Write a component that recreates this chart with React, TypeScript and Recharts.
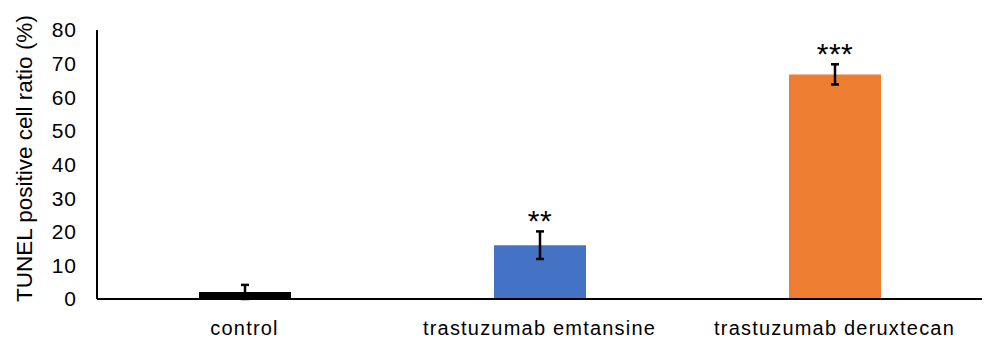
import { Bar, BarChart, Cell, ErrorBar, LabelList, XAxis, YAxis } from "recharts";

const categories = ["control", "trastuzumab emtansine", "trastuzumab deruxtecan"];
const means = [2.1, 16.0, 66.8];
const errors = [2.1, 4.1, 3.0];
const stars = ["", "**", "***"];
const barColors = ["#000000", "#4472C4", "#ED7D31"];
const yTicks = [0, 10, 20, 30, 40, 50, 60, 70, 80];

const data = categories.map((name, i) => ({
  name,
  value: means[i],
  err: errors[i],
  sig: stars[i],
}));

const font = "'Liberation Sans', Arial, sans-serif";

function StarLabel(props: any) {
  const { x, y, width, height, value } = props;
  if (!value) return null;
  const row = data.find((d) => d.sig === value);
  const errPx = row ? (height * row.err) / row.value : 0;
  return (
    <text
      x={x + width / 2}
      y={y - errPx}
      textAnchor="middle"
      fontFamily={font}
      fontSize={30}
      letterSpacing={0.5}
      fill="#000"
    >
      {value}
    </text>
  );
}

export default function App() {
  return (
    <div style={{ position: "absolute", left: 0, top: 0, background: "#fff" }}>
      <BarChart
        width={986}
        height={338}
        data={data}
        margin={{ top: 30, right: 4, bottom: 0, left: 0 }}
      >
        <XAxis
          dataKey="name"
          interval={0}
          height={39}
          tickLine={false}
          tickSize={0}
          tickMargin={22}
          axisLine={{ stroke: "#000", strokeWidth: 2 }}
          tick={{ fill: "#000", fontSize: 20, fontFamily: font, letterSpacing: 1.2 }}
        />
        <YAxis
          width={97}
          domain={[0, 80]}
          ticks={yTicks}
          interval={0}
          tickLine={false}
          tickSize={0}
          tickMargin={20}
          axisLine={{ stroke: "#000", strokeWidth: 2 }}
          tick={{ fill: "#000", fontSize: 21, fontFamily: font, letterSpacing: 1 }}
          label={{
            value: "TUNEL positive cell ratio (%)",
            angle: -90,
            position: "insideLeft",
            offset: 24,
            textAnchor: "middle",
            fill: "#000",
            fontSize: 22.5,
            fontFamily: font,
            dy: -6,
          }}
        />
        <Bar dataKey="value" barSize={92} isAnimationActive={false}>
          {data.map((d, i) => (
            <Cell key={d.name} fill={barColors[i]} />
          ))}
          <ErrorBar dataKey="err" width={4} stroke="#000" strokeWidth={2.5} direction="y" />
          <LabelList dataKey="sig" content={<StarLabel />} />
        </Bar>
      </BarChart>
    </div>
  );
}
